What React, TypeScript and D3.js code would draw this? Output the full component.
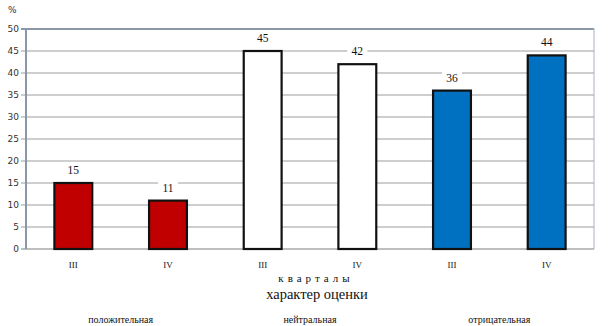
import React from "react";
import * as d3 from "d3";

const categories = ["III", "IV", "III", "IV", "III", "IV"];
const values = [15, 11, 45, 42, 36, 44];
const groupIndex = [0, 0, 1, 1, 2, 2];
const groups = ["положительная", "нейтральная", "отрицательная"];
const groupColors = ["#C00000", "#FFFFFF", "#0070C0"];
const yTicks = [0, 5, 10, 15, 20, 25, 30, 35, 40, 45, 50];

const W = 608, H = 326;
const left = 26, right = 594, top = 29, bottom = 249;

export default function App() {
  const x = d3.scaleBand<number>().domain(d3.range(values.length)).range([left, right]).paddingInner(0).paddingOuter(0);
  const y = d3.scaleLinear().domain([0, 50]).range([bottom, top]);
  const bw = x.bandwidth() * 0.4;
  const serif = "'Times New Roman', 'Liberation Serif', serif";
  const sans = "Tahoma, 'DejaVu Sans', sans-serif";
  return (
    <svg width={W} height={H} style={{ position: "absolute", left: 0, top: 0, background: "#fff" }}>
      <text x={8} y={13} fontFamily={sans} fontSize={9} fill="#333">%</text>
      {yTicks.map((t) => (
        <g key={t}>
          <line x1={21} x2={right} y1={y(t)} y2={y(t)} stroke={t === 50 ? "#8A97A6" : t === 0 ? "#A8A8A8" : "#BEBEBE"} strokeWidth={t === 50 ? 2 : 1.5} />
          <text x={19} y={y(t) + 3} textAnchor="end" fontFamily={sans} fontSize={9} fill="#333">{t}</text>
        </g>
      ))}
      <line x1={left} x2={left} y1={top - 1} y2={bottom} stroke="#8A97A6" strokeWidth={2} />
      <line x1={right} x2={right} y1={top - 1} y2={bottom} stroke="#A9B3BF" strokeWidth={1} />
      {values.map((v, i) => {
        const cx = x(i)! + x.bandwidth() / 2;
        return (
          <g key={i}>
            <rect x={cx - bw / 2} y={y(v)} width={bw} height={bottom - y(v)} fill={groupColors[groupIndex[i]]} stroke="#111" strokeWidth={2.2} />
            <rect x={cx - 10} y={y(v) - 20} width={20} height={13} fill="#fff" />
            <text x={cx} y={y(v) - 9} textAnchor="middle" fontFamily={serif} fontSize={11.5} fill="#111">{v}</text>
            <text x={cx} y={268} textAnchor="middle" fontFamily={serif} fontSize={9} fill="#111">{categories[i]}</text>
          </g>
        );
      })}
      <text x={316} y={282} textAnchor="middle" fontFamily={serif} fontSize={11} letterSpacing={4} fill="#111">кварталы</text>
      <text x={317} y={299} textAnchor="middle" fontFamily={serif} fontSize={14.5} fill="#111">характер оценки</text>
      {groups.map((g, k) => {
        const cx = (x(k * 2)! + x(k * 2 + 1)! + x.bandwidth()) / 2;
        return <text key={g} x={cx} y={323} textAnchor="middle" fontFamily={serif} fontSize={10} fill="#111">{g}</text>;
      })}
    </svg>
  );
}
